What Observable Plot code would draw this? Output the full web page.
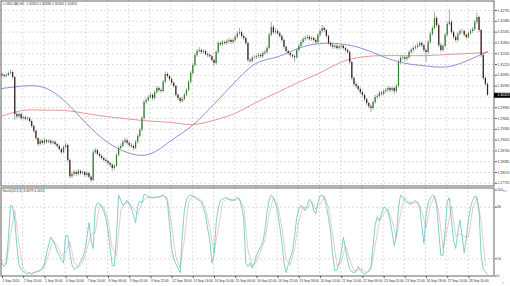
<!DOCTYPE html>
<html><head><meta charset="utf-8">
<script src="https://cdn.jsdelivr.net/npm/d3@7"></script>
<script src="https://cdn.jsdelivr.net/npm/@observablehq/plot@0.6"></script>
<style>
html,body{margin:0;padding:0;background:#fff;}
#chart{width:510px;height:286px;overflow:hidden}
#chart svg{display:block}
</style></head><body><div id="chart"></div>
<script>
// ---------- data ----------
const symbolTitle = "\u25BE USDCAD,H1  1.30354 1.30380 1.30300 1.30323";
const stochTitle = "Stoch(14,3,3) 3.4379 4.1413";
const lastPrice = 1.30323;
const firstOpen = 1.3093;
const barsPerCandle = 2; // each candle below spans 2 hourly bars

const closes = [
1.3090,1.3087,1.3090,1.3096,1.3099,1.3084,1.2976,1.2970,1.2976,1.2964,
1.2967,1.2962,1.2964,1.2956,1.2941,1.2927,1.2906,1.2889,1.2898,1.2892,
1.2900,1.2895,1.2898,1.2892,1.2895,1.2889,1.2883,1.2874,1.2865,1.2880,
1.2886,1.2842,1.2795,1.2801,1.2807,1.2801,1.2810,1.2804,1.2807,1.2798,
1.2804,1.2793,1.2784,1.2865,1.2871,1.2860,1.2854,1.2848,1.2842,1.2839,
1.2833,1.2828,1.2819,1.2825,1.2857,1.2877,1.2883,1.2895,1.2900,1.2892,
1.2886,1.2883,1.2877,1.2895,1.2912,1.2930,1.2964,1.3011,1.3017,1.3026,
1.3032,1.3023,1.3040,1.3052,1.3046,1.3043,1.3070,1.3093,1.3087,1.3078,
1.3067,1.3058,1.3032,1.3023,1.3014,1.3020,1.3032,1.3046,1.3070,1.3096,
1.3119,1.3148,1.3160,1.3163,1.3157,1.3160,1.3151,1.3148,1.3145,1.3134,
1.3125,1.3157,1.3183,1.3180,1.3186,1.3183,1.3189,1.3192,1.3186,1.3192,
1.3201,1.3212,1.3215,1.3204,1.3198,1.3183,1.3134,1.3131,1.3140,1.3142,
1.3145,1.3148,1.3145,1.3154,1.3157,1.3169,1.3207,1.3230,1.3215,1.3218,
1.3212,1.3204,1.3192,1.3172,1.3160,1.3154,1.3148,1.3145,1.3142,1.3163,
1.3175,1.3186,1.3195,1.3198,1.3201,1.3195,1.3198,1.3192,1.3186,1.3207,
1.3218,1.3227,1.3221,1.3204,1.3183,1.3177,1.3172,1.3175,1.3169,1.3172,
1.3175,1.3169,1.3163,1.3157,1.3128,1.3081,1.3064,1.3058,1.3049,1.3040,
1.3032,1.3020,1.3008,1.2999,1.2994,1.3011,1.3026,1.3029,1.3038,1.3035,
1.3043,1.3046,1.3052,1.3046,1.3052,1.3043,1.3058,1.3128,1.3140,1.3142,
1.3137,1.3142,1.3157,1.3163,1.3169,1.3172,1.3177,1.3183,1.3177,1.3163,
1.3157,1.3186,1.3210,1.3227,1.3256,1.3236,1.3177,1.3163,1.3175,1.3207,
1.3239,1.3245,1.3215,1.3201,1.3192,1.3210,1.3218,1.3218,1.3207,1.3201,
1.3212,1.3218,1.3224,1.3245,1.3259,1.3221,1.3148,1.3081,1.3064,1.30323];

const highs = [
1.3097,1.3094,1.3095,1.3100,1.3105,1.3103,1.3087,1.2983,1.2981,1.2980,
1.2972,1.2971,1.2969,1.2968,1.2960,1.2945,1.2930,1.2910,1.2903,1.2902,
1.2906,1.2904,1.2903,1.2902,1.2900,1.2899,1.2893,1.2887,1.2878,1.2885,
1.2893,1.2890,1.2846,1.2808,1.2813,1.2811,1.2816,1.2814,1.2812,1.2810,
1.2809,1.2808,1.2797,1.2872,1.2877,1.2875,1.2864,1.2858,1.2852,1.2847,
1.2843,1.2837,1.2832,1.2830,1.2862,1.2883,1.2890,1.2901,1.2907,1.2905,
1.2896,1.2891,1.2887,1.2900,1.2918,1.2936,1.2970,1.3018,1.3024,1.3032,
1.3038,1.3036,1.3045,1.3058,1.3057,1.3051,1.3075,1.3100,1.3098,1.3091,
1.3082,1.3071,1.3062,1.3036,1.3027,1.3026,1.3038,1.3052,1.3076,1.3102,
1.3125,1.3154,1.3166,1.3171,1.3168,1.3166,1.3164,1.3156,1.3153,1.3149,
1.3138,1.3162,1.3189,1.3188,1.3192,1.3190,1.3194,1.3198,1.3196,1.3197,
1.3207,1.3218,1.3227,1.3220,1.3208,1.3202,1.3187,1.3140,1.3145,1.3148,
1.3150,1.3154,1.3153,1.3159,1.3163,1.3175,1.3213,1.3245,1.3236,1.3225,
1.3223,1.3216,1.3208,1.3196,1.3176,1.3164,1.3158,1.3153,1.3150,1.3168,
1.3181,1.3192,1.3201,1.3204,1.3207,1.3206,1.3203,1.3202,1.3197,1.3212,
1.3224,1.3236,1.3232,1.3225,1.3208,1.3188,1.3182,1.3180,1.3179,1.3177,
1.3180,1.3179,1.3173,1.3167,1.3161,1.3132,1.3086,1.3069,1.3063,1.3054,
1.3045,1.3036,1.3024,1.3012,1.3004,1.3016,1.3032,1.3035,1.3043,1.3043,
1.3048,1.3052,1.3058,1.3057,1.3057,1.3056,1.3064,1.3134,1.3146,1.3149,
1.3147,1.3148,1.3162,1.3169,1.3175,1.3178,1.3183,1.3189,1.3188,1.3181,
1.3167,1.3192,1.3216,1.3233,1.3274,1.3262,1.3240,1.3182,1.3181,1.3213,
1.3245,1.3280,1.3250,1.3220,1.3206,1.3215,1.3224,1.3225,1.3222,1.3211,
1.3217,1.3224,1.3230,1.3251,1.3271,1.3263,1.3225,1.3152,1.3086,1.3068];

const lows = [
1.3085,1.3082,1.3083,1.3086,1.3092,1.3079,1.2959,1.2964,1.2965,1.2959,
1.2960,1.2957,1.2958,1.2951,1.2936,1.2921,1.2900,1.2883,1.2885,1.2887,
1.2888,1.2890,1.2891,1.2887,1.2888,1.2884,1.2878,1.2869,1.2860,1.2862,
1.2876,1.2836,1.2789,1.2790,1.2796,1.2796,1.2797,1.2799,1.2800,1.2793,
1.2794,1.2788,1.2778,1.2781,1.2860,1.2855,1.2849,1.2843,1.2837,1.2834,
1.2828,1.2822,1.2810,1.2814,1.2822,1.2853,1.2872,1.2879,1.2890,1.2887,
1.2880,1.2877,1.2871,1.2873,1.2891,1.2907,1.2926,1.2960,1.3005,1.3012,
1.3020,1.3017,1.3019,1.3036,1.3041,1.3038,1.3039,1.3066,1.3082,1.3073,
1.3062,1.3053,1.3027,1.3017,1.3008,1.3010,1.3016,1.3028,1.3042,1.3066,
1.3091,1.3114,1.3143,1.3155,1.3151,1.3152,1.3146,1.3142,1.3140,1.3128,
1.3116,1.3121,1.3152,1.3175,1.3175,1.3178,1.3178,1.3184,1.3181,1.3181,
1.3187,1.3196,1.3207,1.3199,1.3192,1.3177,1.3128,1.3125,1.3126,1.3135,
1.3137,1.3140,1.3140,1.3140,1.3149,1.3152,1.3165,1.3203,1.3209,1.3210,
1.3206,1.3199,1.3187,1.3166,1.3155,1.3149,1.3143,1.3139,1.3128,1.3137,
1.3158,1.3170,1.3181,1.3190,1.3193,1.3190,1.3190,1.3187,1.3180,1.3182,
1.3202,1.3213,1.3215,1.3198,1.3177,1.3171,1.3166,1.3167,1.3164,1.3164,
1.3167,1.3164,1.3158,1.3152,1.3122,1.3075,1.3058,1.3052,1.3043,1.3034,
1.3026,1.3014,1.3002,1.2993,1.2982,1.2989,1.3006,1.3020,1.3024,1.3030,
1.3030,1.3038,1.3041,1.3040,1.3041,1.3035,1.3038,1.3054,1.3122,1.3134,
1.3131,1.3132,1.3137,1.3152,1.3158,1.3164,1.3167,1.3172,1.3171,1.3157,
1.3128,1.3152,1.3181,1.3205,1.3222,1.3230,1.3171,1.3157,1.3158,1.3170,
1.3202,1.3234,1.3209,1.3195,1.3186,1.3187,1.3205,1.3212,1.3202,1.3195,
1.3196,1.3207,1.3213,1.3219,1.3240,1.3215,1.3142,1.3075,1.3058,1.3030];

// moving averages, read every 20 hourly bars
const maBars = [0,20,40,60,80,100,120,140,160,180,200,220,240,260,280,300,320,340,360,380,400,420,440,458.5];
const maFast = [1.3052,1.3059,1.3055,1.3014,1.2950,1.2895,1.2864,1.2861,1.2900,1.2944,1.3005,1.3070,
                1.3125,1.3144,1.3169,1.3183,1.3182,1.3169,1.3145,1.3126,1.3118,1.3115,1.3134,1.3160];
const maSlow = [1.2971,1.2988,1.2989,1.2988,1.2979,1.2970,1.2963,1.2957,1.2953,1.2947,1.2959,1.2979,
                1.3011,1.3040,1.3070,1.3097,1.3128,1.3144,1.3148,1.3148,1.3148,1.3151,1.3154,1.3157];

// stochastic %K (one value per candle) and %D (one value per two candles)
const stochK = [
15,11,15,44,82,81,65,35,13,8, 5,4,2,4,2,4,5,6,7,9, 14,26,36,45,42,36,28,24,19,15,
47,47,27,13,8,9,12,16,21,29, 44,62,41,32,79,85,84,81,75,67, 53,32,12,12,47,94,88,82,84,88,
84,78,71,62,82,87,85,95,94,92, 91,91,91,92,92,93,94,92,87,59, 32,20,14,9,4,46,76,89,93,94,
93,91,89,88,86,79,71,55,41,15, 24,62,79,88,89,91,91,89,88,88, 89,92,89,81,67,15,11,15,9,15,
24,29,34,39,53,74,89,94,91,85, 74,58,39,15,4,13,21,29,47,67, 78,82,80,76,82,89,87,76,72,85,
93,94,91,82,67,51,24,6,7,15, 27,45,32,18,8,5,4,5,11,7, 5,2,4,6,11,34,59,69,64,72,
80,79,75,65,51,35,47,79,94,92, 88,86,84,84,86,88,85,81,59,38, 71,85,91,94,93,82,51,24,24,53,
86,91,65,41,32,51,65,47,27,44, 65,80,88,93,92,76,24,8,5,2];
const stochD = [
18,14,47,76,38,9,4,3,4,6, 10,25,41,35,24,27,40,16,10,16, 31,49,51,83,80,65,32,24,76,85,
85,78,72,85,91,92,91,92,93,91, 59,22,9,42,86,93,91,88,79,56, 27,55,85,90,89,88,90,79,31,12,
16,29,42,72,91,83,57,19,13,32, 64,80,79,86,78,83,93,80,47,12, 16,35,19,6,7,8,4,7,35,64,
72,78,64,44,73,91,86,85,86,75, 56,82,93,75,33,54,81,46,49,46, 45,78,91,64,12];

const priceGrid = [1.27755,1.28070,1.28385,1.28700,1.29015,1.29330,1.29645,1.29960,1.30275,
                   1.30590,1.30905,1.31220,1.31535,1.31850,1.32165,1.32480,1.32795];
// labels shown on the price scale (1.30275 is hidden behind the current-price box)
const priceTicks = [1.27755,1.28070,1.28385,1.28700,1.29015,1.29330,1.29645,1.29960,
                    1.30590,1.30905,1.31220,1.31535,1.31850,1.32165,1.32480,1.32795];
const stochTicks = [0,20,80,100];
const stochLevels = [20,80];
const timeBars = [0,20,40,60,80,100,120,140,160,180,200,220,240,260,280,300,320,340,360,380,400,420,440];
const timeLabels = ["1 Sep 2016","2 Sep 20:00","5 Sep 16:00","6 Sep 14:00","7 Sep 10:00","8 Sep 06:00",
  "9 Sep 02:00","9 Sep 22:00","12 Sep 18:00","13 Sep 14:00","14 Sep 10:00","15 Sep 06:00","16 Sep 02:00",
  "16 Sep 22:00","19 Sep 18:00","20 Sep 14:00","21 Sep 10:00","22 Sep 06:00","23 Sep 02:00","23 Sep 22:00",
  "26 Sep 18:00","27 Sep 14:00","28 Sep 10:00"];

// ---------- derived tables ----------
const candles = closes.map((c, j) => ({
  i: j * barsPerCandle + 0.5,
  o: j === 0 ? firstOpen : closes[j - 1],
  c, h: highs[j], l: lows[j]
}));
const maFastData = maBars.map((b, k) => ({i: b, v: maFast[k]}));
const maSlowData = maBars.map((b, k) => ({i: b, v: maSlow[k]}));
const kData = stochK.map((v, j) => ({i: j * barsPerCandle + 0.5, v}));
const dData = stochD.map((v, j) => ({i: j * 2 * barsPerCandle + 0.5, v}));
const labelOf = new Map(timeBars.map((b, k) => [b, timeLabels[k]]));

// ---------- layout ----------
const W = 510, axisW = 16;
const xDomain = [-0.9434, 465.09];
const font = "'Liberation Sans', Arial, sans-serif";
const fs = 3.3;
const gridStyle = {stroke: "#d4d4d4", strokeDasharray: "2,2", strokeWidth: 0.8};
const fmt5 = d3.format(".5f");

const main = Plot.plot({
  width: W, height: 186,
  marginLeft: 0, marginRight: axisW, marginTop: 0, marginBottom: 0,
  style: {fontFamily: font, fontSize: fs + "px", background: "#fff", overflow: "visible"},
  x: {domain: xDomain, axis: null},
  y: {domain: [1.27662, 1.33087], axis: null},
  marks: [
    Plot.ruleY(priceGrid, gridStyle),
    Plot.ruleX(timeBars, gridStyle),
    Plot.line(maSlowData, {x: "i", y: "v", stroke: "#e58a8a", strokeWidth: 0.9, curve: "natural"}),
    Plot.line(maFastData, {x: "i", y: "v", stroke: "#8080da", strokeWidth: 0.9, curve: "natural"}),
    Plot.ruleX(candles, {x: "i", y1: "l", y2: "h", stroke: "#a8a8a8", strokeWidth: 1}),
    Plot.ruleX(candles, {x: "i", y1: "o", y2: "c", strokeWidth: 1.2,
      stroke: d => d.c >= d.o ? "#2f7f2f" : "#3a1a1a"}),
    Plot.frame({stroke: "#666", inset: 0.5}),
    Plot.axisY(priceTicks, {anchor: "right", tickSize: 2, tickPadding: 1, tickFormat: fmt5,
      fontSize: fs, fill: "#333", stroke: "#555"}),
    Plot.ruleY([lastPrice], {x1: xDomain[1], x2: xDomain[1] + axisW / 1.06, stroke: "#000", strokeWidth: 5}),
    Plot.text([lastPrice], {y: d => d, frameAnchor: "right", dx: 3, textAnchor: "start",
      text: d => fmt5(d), fill: "#fff", fontSize: fs}),
    Plot.text([symbolTitle], {frameAnchor: "top-left", dx: 2, dy: 2, textAnchor: "start",
      lineAnchor: "top", fill: "#333", fontSize: fs})
  ]
});

const stoch = Plot.plot({
  width: W, height: 100,
  marginLeft: 0, marginRight: axisW, marginTop: 1, marginBottom: 10,
  style: {fontFamily: font, fontSize: fs + "px", background: "#fff", overflow: "visible"},
  x: {domain: xDomain, axis: null},
  y: {domain: [0, 100], range: [89.5, 3.5], axis: null},
  marks: [
    Plot.ruleX(timeBars, gridStyle),
    Plot.ruleY(stochLevels, gridStyle),
    Plot.line(kData, {x: "i", y: "v", stroke: "#6fcac4", strokeWidth: 0.9}),
    Plot.line(dData, {x: "i", y: "v", stroke: "#b88a8a", strokeWidth: 0.6, strokeDasharray: "1,1", strokeOpacity: 0.8}),
    Plot.frame({stroke: "#666", inset: 0.5}),
    Plot.axisY(stochTicks, {anchor: "right", tickSize: 2, tickPadding: 1, fontSize: fs, fill: "#333", stroke: "#555"}),
    Plot.axisX(timeBars, {anchor: "bottom", tickSize: 2, tickPadding: 1, textAnchor: "start", dx: 1,
      tickFormat: d => labelOf.get(d), fontSize: fs, fill: "#333", stroke: "#555"}),
    Plot.text([stochTitle], {frameAnchor: "top-left", dx: 2, dy: 2, textAnchor: "start",
      lineAnchor: "top", fill: "#333", fontSize: fs})
  ]
});

document.getElementById("chart").append(main, stoch);
</script></body></html>
